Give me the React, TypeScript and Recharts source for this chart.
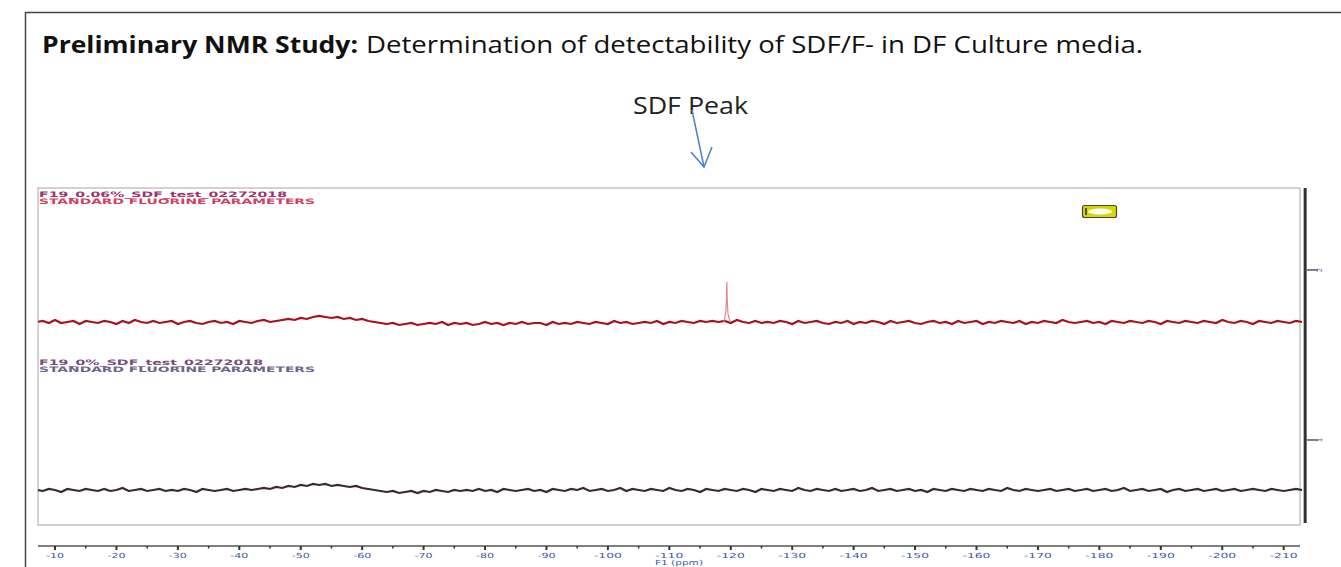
import { LineChart, Line, XAxis, YAxis, ReferenceArea, ReferenceLine } from "recharts";

// 19F spectra, one point per ppm starting at -7 ppm, intensities in arbitrary units
const PPM_START = -7;

const TOP_INTENSITY = [
  0, 1, -1, 2, -1, 0, 1, -2, 1, 0,
  -1, 1, 0, -2, 1, -1, 2, 0, -1, 1,
  -1, 0, 1, -2, 0, 1, -1, -2, 0, 1,
  -1, 0, -2, 1, 0, -1, 1, 2, 0, 1,
  2, 3, 2, 4, 3, 5, 6, 5, 4, 5,
  3, 4, 2, 3, 1, 0, -1, -2, -1, -3,
  -2, -1, -3, -2, -1, -2, 0, -3, -1, -2,
  -1, -3, -2, 0, -2, -1, -3, -1, -2, 0,
  -2, -1, -1, -3, 0, -2, -1, -2, 0, -1,
  -2, 0, -1, -2, 1, -1, 0, -2, -1, 0,
  -1, 1, -2, 0, -1, 1, 0, -1, 1, 0,
  1, 0, 1, -1, 2, 0, -1, 1, -1, 0,
  -1, 1, 0, -2, 1, -1, 0, 1, -1, -2,
  0, -1, 1, -2, 0, -1, 1, 0, -2, 1,
  -1, 0, 1, -1, -2, 0, 1, -1, 0, -2,
  1, -1, 0, 1, -2, 0, -1, 1, 0, -1,
  1, -2, 0, -1, 1, 0, -1, 2, 0, -1,
  0, 1, -1, 0, -2, 1, 0, -1, 1, 0,
  -1, 1, 0, -2, 1, 0, -1, 1, 0, -1,
  1, 0, -1, 2, 0, -1, 1, 0, -2, 1,
  0, -1, 1, 0, -1, 1, 0,
];

// SDF signal near -119.4 ppm, sampled finer than the baseline
const PEAK_PPM = [-118.9, -119.2, -119.3, -119.36, -119.42, -119.55, -119.9];
const PEAK_INTENSITY = [0, 10, 24, 40, 22, 8, 0];

const BOTTOM_INTENSITY = [
  0, -1, 1, 0, -2, 1, 0, -1, 1, 0,
  -1, 1, -1, 0, 2, -1, 0, 1, -1, 0,
  1, -1, 0, -1, 1, 0, -2, 1, 0, -1,
  0, 1, -1, 0, 1, 0, 1, 2, 1, 3,
  2, 4, 3, 5, 4, 6, 5, 6, 4, 5,
  4, 3, 4, 2, 1, 0, -1, -2, -1, -3,
  -2, -1, -3, -1, -2, 0, -1, -2, 0, -1,
  0, -1, 1, -1, 0, -2, 1, 0, -1, 0,
  1, -1, 0, -2, 1, 0, -1, 1, 0, 2,
  -1, 0, 1, -1, 0, 2, -1, 1, 0, -1,
  1, 0, -1, 2, 0, -1, 1, 0, -2, 1,
  0, -1, 1, 0, -1, 1, 0, -2, 1, 0,
  -1, 1, 0, -1, 2, 0, -1, 1, 0, -1,
  1, -1, 0, 1, -1, 0, 2, -1, 0, 1,
  -1, 0, 1, -1, 0, -2, 1, 0, -1, 1,
  0, -1, 1, 0, -1, 1, 0, -1, 2, 0,
  -1, 1, 0, -1, 0, 1, -1, 0, 1, -1,
  0, 1, -1, 0, 1, -1, 0, 2, -1, 0,
  1, -1, 0, 1, -2, 0, 1, -1, 0, 1,
  -1, 0, 1, -1, 0, 1, -1, 0, 1, 0,
  -1, 1, 0, -1, 0, 1, 0,
];

const MAJOR_TICKS = [
  -10, -20, -30, -40, -50, -60, -70, -80, -90, -100, -110,
  -120, -130, -140, -150, -160, -170, -180, -190, -200, -210,
];
const STACK_TICKS = [1, 2];

const TOP_LABEL = ["F19_0.06%_SDF_test_02272018", "STANDARD FLUORINE PARAMETERS"];
const BOTTOM_LABEL = ["F19_0%_SDF_test_02272018", "STANDARD FLUORINE PARAMETERS"];

// stacked plot offsets (1 stack unit = 170 a.u.)
const TOP_OFFSET = 1.694;
const BOTTOM_OFFSET = 0.706;
const AU = 1 / 170;

const X_DOMAIN = [-213.8, -7.23];
const Y_DOMAIN = [0.3765, 2.482];

const data = TOP_INTENSITY.map((v, i) => ({
  ppm: PPM_START - i,
  top: TOP_OFFSET + v * AU,
  bottom: BOTTOM_OFFSET + BOTTOM_INTENSITY[i] * AU,
}));

const peakData = PEAK_PPM.map((p, i) => ({ ppm: p, peak: TOP_OFFSET + PEAK_INTENSITY[i] * AU }));

const allTicks = MAJOR_TICKS.flatMap((t) => [t, t - 5]).filter((t) => t > X_DOMAIN[0]);

const XTick = (props: any) => {
  const { x, y, payload } = props;
  const major = payload.value % 10 === 0;
  const label = String(payload.value);
  return (
    <g>
      <line x1={x} x2={x} y1={y} y2={y + (major ? 4 : 2.5)} stroke="#333" strokeWidth={major ? 2 : 1.5} />
      {major && (
        <text
          x={x - (label.length > 3 ? 14 : 9)}
          y={y + 12}
          fontSize={7}
          fontFamily="DejaVu Sans"
          fill="#3b5aa8"
          textLength={label.length > 3 ? 28 : 18}
          lengthAdjust="spacingAndGlyphs"
        >
          {label}
        </text>
      )}
    </g>
  );
};

const YTick = (props: any) => {
  const { x, y, payload } = props;
  return (
    <text x={x + 2} y={y} fontSize={7} fontFamily="DejaVu Sans" fill="#7a5aa0" transform={`rotate(-90 ${x + 2} ${y})`} textAnchor="middle">
      {payload.value}
    </text>
  );
};

const SpecLabel = ({ x, y, lines, colors, widths }: any) => (
  <g>
    {lines.map((l: string, i: number) => (
      <text
        key={i}
        x={x}
        y={y + i * 7}
        fontSize={7.5}
        fontWeight={700}
        fontFamily="DejaVu Sans"
        fill={colors[i]}
        textLength={widths[i]}
        lengthAdjust="spacingAndGlyphs"
      >
        {l}
      </text>
    ))}
  </g>
);

export default function App() {
  return (
    <div style={{ position: "relative", width: 1341, height: 567, overflow: "hidden", background: "#fff" }}>
      <style>{"body{margin:0;overflow:hidden}"}</style>
      <LineChart width={1341} height={567} data={data} margin={{ top: 188, right: 4, bottom: 0, left: 38 }}>
        <XAxis
          dataKey="ppm"
          type="number"
          domain={X_DOMAIN}
          allowDataOverflow
          reversed
          ticks={allTicks}
          interval={0}
          axisLine={false}
          tickLine={false}
          tickSize={0}
          tickMargin={0}
          height={21}
          tick={<XTick />}
        />
        <YAxis
          orientation="right"
          type="number"
          domain={Y_DOMAIN}
          allowDataOverflow
          ticks={STACK_TICKS}
          axisLine={false}
          tickLine={{ stroke: "#555", strokeWidth: 1.5 }}
          tickSize={11}
          tickMargin={2}
          width={30}
          tick={<YTick />}
        />
        <ReferenceArea x1={-7.23} x2={-212.66} y1={0.5} y2={2.482} fill="#fff" fillOpacity={0} stroke="#c4c4c4" strokeWidth={1.5} />
        <ReferenceLine segment={[{ x: -213.5, y: 0.512 }, { x: -213.5, y: 2.482 }]} stroke="#333" strokeWidth={3} />
        <ReferenceLine segment={[{ x: -7.23, y: 0.3765 }, { x: -212.66, y: 0.3765 }]} stroke="#555" strokeWidth={1.5} />
        <Line dataKey="top" stroke="#a8121e" strokeWidth={2.2} dot={false} isAnimationActive={false} />
        <Line data={peakData} dataKey="peak" stroke="#d98894" strokeWidth={1.2} dot={false} isAnimationActive={false} />
        <Line dataKey="bottom" stroke="#3a2a2e" strokeWidth={2.2} dot={false} isAnimationActive={false} />
      </LineChart>

      <svg width={1341} height={567} style={{ position: "absolute", left: 0, top: 0, pointerEvents: "none" }}>
        <polyline points="25.5,567 25.5,12.5 1341,12.5" fill="none" stroke="#444" strokeWidth={1.5} />
        <text x={42} y={53} fontFamily="Open Sans" fontWeight={700} fontSize={23} fill="#111" textLength={316} lengthAdjust="spacingAndGlyphs">
          Preliminary NMR Study:
        </text>
        <text x={366} y={53} fontFamily="Open Sans" fontSize={23} fill="#111" textLength={777} lengthAdjust="spacingAndGlyphs">
          Determination of detectability of SDF/F- in DF Culture media.
        </text>
        <text x={633} y={114} fontFamily="Open Sans" fontSize={24} fill="#222" textLength={115} lengthAdjust="spacingAndGlyphs">
          SDF Peak
        </text>
        <g stroke="#4a7fd0" strokeWidth={1.5} fill="none">
          <line x1={692} y1={110} x2={704} y2={167} />
          <polyline points="691,152 704,167 712,147" />
        </g>
        <SpecLabel x={39} y={197} lines={TOP_LABEL} colors={["#a0306e", "#d2405e"]} widths={[248, 276]} />
        <SpecLabel x={39} y={365} lines={BOTTOM_LABEL} colors={["#7a4a80", "#6e6488"]} widths={[224, 276]} />
        <rect x={1082.5} y={205.5} width={34} height={12} rx={2} fill="#dcd600" stroke="#444" strokeWidth={1.2} />
        <ellipse cx={1100} cy={211.5} rx={12} ry={3} fill="#fff" />
        <line x1={1086} y1={208} x2={1086} y2={215} stroke="#222" strokeWidth={1.5} />
        <text x={655} y={565} fontFamily="DejaVu Sans" fontSize={7} fill="#3b5aa8" textLength={48} lengthAdjust="spacingAndGlyphs">
          F1 (ppm)
        </text>
      </svg>
    </div>
  );
}
